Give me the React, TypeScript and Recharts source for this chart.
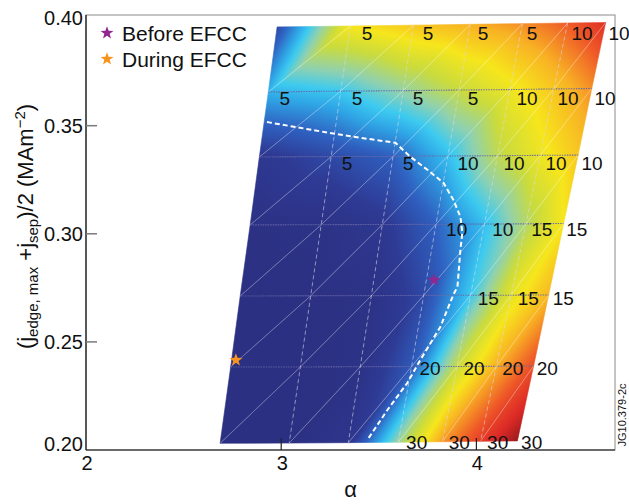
import React from 'react';
import { ComposedChart, XAxis, YAxis, ReferenceArea, Line, Scatter, Legend } from 'recharts';

const FONT = '"Liberation Sans", Arial, Helvetica, sans-serif';

const X_DOMAIN = [2, 4.71];
const Y_DOMAIN = [0.2, 0.4012];
const X_TICKS = [2, 3, 4];
const Y_TICKS = [0.2, 0.25, 0.3, 0.35, 0.4];

// mesh nodes, rows from top to bottom, 7 columns each
const nodeAlpha = [
  [2.979, 3.354, 3.677, 3.969, 4.236, 4.467, 4.662],
  [2.934, 3.305, 3.625, 3.912, 4.172, 4.397, 4.591],
  [2.888, 3.256, 3.573, 3.854, 4.108, 4.327, 4.521],
  [2.841, 3.205, 3.518, 3.793, 4.041, 4.254, 4.447],
  [2.790, 3.151, 3.462, 3.730, 3.970, 4.178, 4.370],
  [2.741, 3.098, 3.405, 3.668, 3.901, 4.102, 4.293],
  [2.687, 3.041, 3.344, 3.600, 3.826, 4.021, 4.210],
];
const nodeJ = [
  [0.3957, 0.3961, 0.3965, 0.3969, 0.3972, 0.3975, 0.3977],
  [0.3656, 0.3660, 0.3662, 0.3665, 0.3667, 0.3670, 0.3672],
  [0.3355, 0.3357, 0.3358, 0.3360, 0.3361, 0.3363, 0.3364],
  [0.3041, 0.3042, 0.3043, 0.3044, 0.3045, 0.3046, 0.3048],
  [0.2712, 0.2713, 0.2714, 0.2715, 0.2716, 0.2716, 0.2717],
  [0.2384, 0.2384, 0.2385, 0.2386, 0.2386, 0.2387, 0.2389],
  [0.2031, 0.2032, 0.2034, 0.2036, 0.2038, 0.2040, 0.2042],
];
// colour level (0 = stable/dark blue, 1 = dark red) at each node
const nodeLevel = [
  [0.16, 0.66, 0.72, 0.76, 0.80, 0.86, 0.93],
  [0.34, 0.38, 0.47, 0.56, 0.64, 0.72, 0.80],
  [0.10, 0.16, 0.22, 0.36, 0.54, 0.64, 0.72],
  [0.04, 0.05, 0.10, 0.22, 0.36, 0.52, 0.66],
  [0.03, 0.03, 0.05, 0.16, 0.38, 0.62, 0.75],
  [0.03, 0.03, 0.05, 0.20, 0.56, 0.76, 0.88],
  [0.03, 0.03, 0.08, 0.48, 0.79, 0.91, 1.00],
];

const colorStops: [number, string][] = [
  [0.0, '#2b2d7c'],
  [0.12, '#2e3a94'],
  [0.22, '#2f60c0'],
  [0.32, '#2fa6e6'],
  [0.38, '#3ccaf0'],
  [0.46, '#8fd1b0'],
  [0.56, '#c9db3e'],
  [0.66, '#f6e61c'],
  [0.76, '#f8b224'],
  [0.86, '#ef5a28'],
  [0.94, '#dd2a26'],
  [1.0, '#9b1a1e'],
];

// mode-number labels
const labelAlpha = [3.440, 3.752, 4.034, 4.285, 4.541, 4.731,
  3.019, 3.388, 3.701, 3.983, 4.259, 4.469, 4.659,
  3.337, 3.650, 3.957, 4.193, 4.408, 4.592,
  3.899, 4.135, 4.335, 4.514,
  4.061, 4.266, 4.445,
  3.762, 3.988, 4.186, 4.363,
  3.694, 3.912, 4.109, 4.283];
const labelJ = [0.3929, 0.3929, 0.3929, 0.3929, 0.3929, 0.3929,
  0.3628, 0.3628, 0.3628, 0.3628, 0.3628, 0.3628, 0.3628,
  0.3327, 0.3327, 0.3327, 0.3327, 0.3327, 0.3327,
  0.3024, 0.3024, 0.3024, 0.3024,
  0.2704, 0.2704, 0.2704,
  0.2378, 0.2378, 0.2378, 0.2378,
  0.2038, 0.2038, 0.2038, 0.2038];
const labelText = ['5', '5', '5', '5', '10', '10',
  '5', '5', '5', '5', '10', '10', '10',
  '5', '5', '10', '10', '10', '10',
  '10', '10', '15', '15',
  '15', '15', '15',
  '20', '20', '20', '20',
  '30', '30', '30', '30'];

// stability boundary (dashed white)
const boundaryAlpha = [2.927, 3.200, 3.369, 3.585, 3.662, 3.749, 3.831, 3.882, 3.918, 3.928, 3.918, 3.903, 3.882, 3.815, 3.713, 3.646, 3.544, 3.441];
const boundaryJ = [0.3517, 0.3474, 0.3449, 0.3421, 0.3356, 0.3296, 0.3236, 0.3157, 0.3079, 0.3005, 0.2926, 0.2755, 0.2718, 0.2569, 0.2417, 0.2310, 0.2185, 0.2046];
const boundary = boundaryAlpha.map((a, i) => ({ a, v: boundaryJ[i] }));

const seriesNames = ['Before EFCC', 'During EFCC'];
const seriesColors = ['#92278f', '#f7941d'];
const beforeData = [{ a: 3.783, v: 0.2786 }];
const duringData = [{ a: 2.768, v: 0.2416 }];

function hexToRgb(h: string) {
  return [parseInt(h.slice(1, 3), 16), parseInt(h.slice(3, 5), 16), parseInt(h.slice(5, 7), 16)];
}
function cmap(t: number) {
  const z = Math.max(0, Math.min(1, t));
  for (let i = 1; i < colorStops.length; i++) {
    if (z <= colorStops[i][0]) {
      const [t0, c0] = colorStops[i - 1];
      const [t1, c1] = colorStops[i];
      const f = (z - t0) / (t1 - t0);
      const a = hexToRgb(c0), b = hexToRgb(c1);
      return `rgb(${a.map((v, k) => Math.round(v + (b[k] - v) * f)).join(',')})`;
    }
  }
  return colorStops[colorStops.length - 1][1];
}

function starPath(cx: number, cy: number, R: number, r: number) {
  const pts: string[] = [];
  for (let i = 0; i < 10; i++) {
    const rad = i % 2 === 0 ? R : r;
    const ang = -Math.PI / 2 + (i * Math.PI) / 5;
    pts.push(`${(cx + rad * Math.cos(ang)).toFixed(2)},${(cy + rad * Math.sin(ang)).toFixed(2)}`);
  }
  return 'M' + pts.join('L') + 'Z';
}

function FieldLayer(props: any) {
  const x = Number(props.x), y = Number(props.y), width = Number(props.width), height = Number(props.height);
  const px = (a: number) => x + ((a - X_DOMAIN[0]) / (X_DOMAIN[1] - X_DOMAIN[0])) * width;
  const py = (v: number) => y + ((Y_DOMAIN[1] - v) / (Y_DOMAIN[1] - Y_DOMAIN[0])) * height;
  const nR = nodeAlpha.length, nC = nodeAlpha[0].length;
  const P = (i: number, j: number) => [px(nodeAlpha[i][j]), py(nodeJ[i][j])];

  const defs: any[] = [];
  const tris: any[] = [];
  let id = 0;
  for (let r = 0; r < nR - 1; r++) {
    for (let c = 0; c < nC - 1; c++) {
      const triIdx = [
        [[r + 1, c], [r + 1, c + 1], [r, c + 1]],
        [[r + 1, c], [r, c + 1], [r, c]],
      ];
      for (const tri of triIdx) {
        const pts = tri.map(([i, j]) => P(i, j));
        const zs = tri.map(([i, j]) => nodeLevel[i][j]);
        const d = `M${pts.map((p) => p[0].toFixed(2) + ',' + p[1].toFixed(2)).join('L')}Z`;
        const d1x = pts[1][0] - pts[0][0], d1y = pts[1][1] - pts[0][1];
        const d2x = pts[2][0] - pts[0][0], d2y = pts[2][1] - pts[0][1];
        const dz1 = zs[1] - zs[0], dz2 = zs[2] - zs[0];
        const det = d1x * d2y - d1y * d2x;
        const gx = (dz1 * d2y - dz2 * d1y) / det;
        const gy = (d1x * dz2 - d2x * dz1) / det;
        const g2 = gx * gx + gy * gy;
        if (g2 < 1e-12) {
          const col = cmap(zs[0]);
          tris.push(<path key={`t${id++}`} d={d} fill={col} stroke={col} strokeWidth={0.6} strokeLinejoin="round" />);
        } else {
          const gid = `grad${id++}`;
          const sx = pts[0][0] + ((0 - zs[0]) * gx) / g2;
          const sy = pts[0][1] + ((0 - zs[0]) * gy) / g2;
          const ex = pts[0][0] + ((1 - zs[0]) * gx) / g2;
          const ey = pts[0][1] + ((1 - zs[0]) * gy) / g2;
          defs.push(
            <linearGradient key={gid} id={gid} gradientUnits="userSpaceOnUse" x1={sx} y1={sy} x2={ex} y2={ey}>
              {colorStops.map(([t, col]) => (
                <stop key={t} offset={t} stopColor={col} />
              ))}
            </linearGradient>
          );
          tris.push(<path key={gid + 'p'} d={d} fill={`url(#${gid})`} stroke={`url(#${gid})`} strokeWidth={0.6} strokeLinejoin="round" />);
        }
      }
    }
  }

  const rowLines: any[] = [];
  for (let r = 1; r < nR - 1; r++) {
    const d = nodeAlpha[r].map((a, j) => `${j === 0 ? 'M' : 'L'}${px(a).toFixed(2)},${py(nodeJ[r][j]).toFixed(2)}`).join('');
    rowLines.push(<path key={`r${r}`} d={d} fill="none" stroke="rgba(100,100,165,0.9)" strokeWidth={1.1} strokeDasharray="1.5 1" />);
  }
  const colLines: any[] = [];
  for (let c = 1; c < nC - 1; c++) {
    const d = nodeAlpha.map((row, i) => `${i === 0 ? 'M' : 'L'}${px(row[c]).toFixed(2)},${py(nodeJ[i][c]).toFixed(2)}`).join('');
    colLines.push(<path key={`c${c}`} d={d} fill="none" stroke="rgba(215,215,235,0.7)" strokeWidth={0.8} strokeDasharray="4 3" />);
  }
  const diag: any[] = [];
  for (let r = 0; r < nR - 1; r++) {
    for (let c = 0; c < nC - 1; c++) {
      const a = P(r + 1, c), b = P(r, c + 1);
      diag.push(<line key={`d${r}-${c}`} x1={a[0]} y1={a[1]} x2={b[0]} y2={b[1]} stroke="rgba(255,255,255,0.45)" strokeWidth={0.7} />);
    }
  }

  return (
    <g>
      <defs>{defs}</defs>
      <rect x={x} y={y} width={width} height={height} fill="none" stroke="#8a8a8a" strokeWidth={1} />
      {tris}
      {rowLines}
      {colLines}
      {diag}
      {labelText.map((t, i) => (
        <text key={`l${i}`} x={px(labelAlpha[i])} y={py(labelJ[i])} dy={7} textAnchor="middle" fontSize={19} fontFamily={FONT} fill="#111">
          {t}
        </text>
      ))}
      <text transform={`translate(${x - 53}, ${y + height / 2 - 6}) rotate(-90)`} textAnchor="middle" fontSize={22} fontFamily={FONT} fill="#111">
        (j<tspan dy={5} fontSize={15}>edge, max</tspan>
        <tspan dy={-5}> +j</tspan>
        <tspan dy={5} fontSize={15}>sep</tspan>
        <tspan dy={-5}>)/2 (MAm</tspan>
        <tspan dy={-8} fontSize={15}>−2</tspan>
        <tspan dy={8}>)</tspan>
      </text>
      <text transform={`translate(${x + width + 11}, ${y + height - 35}) rotate(-90)`} textAnchor="middle" fontSize={11} fontFamily={FONT} fill="#111">
        JG10.379-2c
      </text>
    </g>
  );
}

const XTick = (p: any) => {
  const { x, y, payload } = p;
  return (
    <g>
      {payload.value > X_DOMAIN[0] && <line x1={x} x2={x} y1={y} y2={y - 12} stroke="#222" strokeWidth={1.2} />}
      <text x={x + 1} y={y + 20} textAnchor="middle" fontSize={20} fontFamily={FONT} fill="#111">
        {payload.value}
      </text>
    </g>
  );
};

const YTick = (p: any) => {
  const { x, y, payload } = p;
  const v = payload.value;
  const ly = Math.min(y, 443.5);
  return (
    <g>
      {v > Y_TICKS[0] && v < Y_TICKS[Y_TICKS.length - 1] && <line x1={x} x2={x + 11} y1={y} y2={y} stroke="#7a7a7a" strokeWidth={1.5} />}
      <text x={x - 3} y={ly} dy={7} textAnchor="end" fontSize={20} fontFamily={FONT} fill="#111">
        {v.toFixed(2)}
      </text>
    </g>
  );
};

const XLabel = (p: any) => {
  const vb = p.viewBox || {};
  const cx = Number(vb.x) + Number(vb.width) / 2;
  const by = Number(vb.y) + 47;
  return (
    <text x={cx} y={by} textAnchor="middle" fontSize={22} fontFamily={FONT} fill="#111">
      α
    </text>
  );
};

const StarShape = (props: any) => {
  const { cx, cy, fill } = props;
  return <path d={starPath(cx, cy, 6.8, 2.8)} fill={fill} />;
};

const LegendBox = () => (
  <svg width={180} height={60} style={{ display: 'block' }}>
    {seriesNames.map((n, i) => (
      <g key={n}>
        <path d={starPath(12, 18 + i * 26, 6.8, 2.8)} fill={seriesColors[i]} />
        <text x={27} y={25.5 + i * 26} fontSize={21} fontFamily={FONT} fill="#111">
          {n}
        </text>
      </g>
    ))}
  </svg>
);

export default function App() {
  return (
    <div style={{ position: 'absolute', left: 0, top: 0, background: '#fff' }}>
      <ComposedChart width={629} height={504} margin={{ top: 15, right: 14, bottom: 0, left: 0 }}>
        <ReferenceArea x1={X_DOMAIN[0]} x2={X_DOMAIN[1]} y1={Y_DOMAIN[0]} y2={Y_DOMAIN[1]} ifOverflow="visible" shape={FieldLayer} />
        <XAxis
          dataKey="a"
          type="number"
          domain={X_DOMAIN}
          ticks={X_TICKS}
          allowDataOverflow
          height={54}
          interval={0}
          tick={XTick}
          tickLine={false}
          tickSize={0}
          tickMargin={0}
          axisLine={{ stroke: '#111', strokeWidth: 1.2 }}
          label={<XLabel />}
        />
        <YAxis
          dataKey="v"
          type="number"
          domain={Y_DOMAIN}
          ticks={Y_TICKS}
          allowDataOverflow
          width={86}
          interval={0}
          tick={YTick}
          tickLine={false}
          tickSize={0}
          tickMargin={0}
          axisLine={{ stroke: '#111', strokeWidth: 1.2 }}
        />
        <Line
          data={boundary}
          dataKey="v"
          type="linear"
          stroke="#ffffff"
          strokeWidth={2}
          strokeDasharray="5 3"
          dot={false}
          activeDot={false}
          legendType="none"
          isAnimationActive={false}
        />
        <Scatter name={seriesNames[0]} data={beforeData} fill={seriesColors[0]} shape={StarShape} isAnimationActive={false} />
        <Scatter name={seriesNames[1]} data={duringData} fill={seriesColors[1]} shape={StarShape} isAnimationActive={false} />
        <Legend
          layout="vertical"
          align="center"
          verticalAlign="middle"
          wrapperStyle={{ left: 95, top: 15, width: 180, height: 60 }}
          content={() => <LegendBox />}
        />
      </ComposedChart>
    </div>
  );
}
